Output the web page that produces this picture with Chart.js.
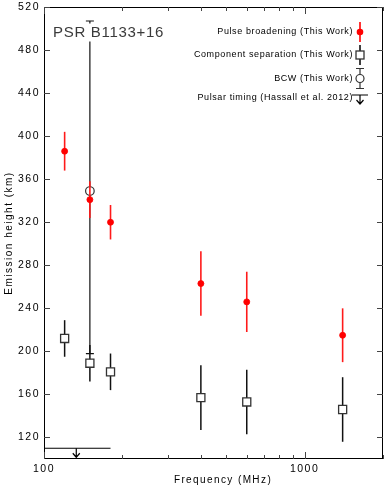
<!DOCTYPE html>
<html>
<head>
<meta charset="utf-8">
<script src="https://cdn.jsdelivr.net/npm/chart.js@4.4.1/dist/chart.umd.min.js"></script>
<style>
  html, body { margin: 0; padding: 0; background: #fff; }
  #wrap { width: 390px; height: 487px; position: relative; }
</style>
</head>
<body>
<div id="wrap"><canvas id="chartEmission"></canvas></div>
<script>
// frequency in MHz, emission height in km
const pbFreq = [120, 150, 180, 400, 600, 1400];
const pbHeight = [386, 341, 320, 263, 246, 215];
const pbErr = [18, 17, 16, 30, 28, 25];

const csFreq = [120, 150, 180, 400, 600, 1400];
const csHeight = [212, 189, 181, 157, 153, 146];
const csErr = [17, 17, 17, 30, 30, 30];

const bcwFreq = [150];
const bcwHeight = [349];
const bcwLow = [198];
const bcwHigh = [507];

const timingFreq = [100, 180];
const timingHeight = [110, 110];
const timingArrowFreq = 133;

const yTicks = [120, 160, 200, 240, 280, 320, 360, 400, 440, 480, 520];
const xTicks = [100, 200, 300, 400, 500, 600, 700, 800, 900, 1000, 2000];
const xLabels = [100, 1000];

const legendLabels = [
  'Pulse broadening (This Work)',
  'Component separation (This Work)',
  'BCW (This Work)',
  'Pulsar timing (Hassall et al. 2012)'
];

const FONT = '"Liberation Sans", Arial, sans-serif';

function pts(xs, ys) {
  return xs.map((x, i) => ({ x: x, y: ys[i] }));
}

// error bars are drawn just before each dataset's points
const errorBars = {
  id: 'errorBars',
  beforeDatasetDraw(chart, args) {
    const ds = chart.data.datasets[args.index];
    const { ctx } = chart;
    const xs = chart.scales.x, ys = chart.scales.y;
    ctx.save();
    if (ds.errLow) {
      ctx.strokeStyle = ds.errColor;
      ctx.lineWidth = ds.errWidth;
      ds.data.forEach((p, i) => {
        const px = xs.getPixelForValue(p.x);
        const lo = ys.getPixelForValue(ds.errLow[i]);
        const hi = ys.getPixelForValue(ds.errHigh[i]);
        ctx.beginPath();
        ctx.moveTo(px, lo);
        ctx.lineTo(px, hi);
        if (ds.errCap) {
          ctx.moveTo(px - ds.errCap, lo); ctx.lineTo(px + ds.errCap, lo);
          ctx.moveTo(px - ds.errCap, hi); ctx.lineTo(px + ds.errCap, hi);
        }
        ctx.stroke();
      });
    }
    if (ds.arrowFreq) {
      const ax = xs.getPixelForValue(ds.arrowFreq);
      const ay = ys.getPixelForValue(ds.data[0].y);
      ctx.strokeStyle = '#000';
      ctx.lineWidth = 1.2;
      ctx.beginPath();
      ctx.moveTo(ax, ay); ctx.lineTo(ax, ay + 9);
      ctx.moveTo(ax - 3.5, ay + 5); ctx.lineTo(ax, ay + 9); ctx.lineTo(ax + 3.5, ay + 5);
      ctx.stroke();
    }
    ctx.restore();
  }
};

const frameAndLegend = {
  id: 'frameAndLegend',
  beforeDraw(chart) {
    chart.ctx.letterSpacing = '1.5px';
  },
  afterDatasetsDraw(chart) {
    const { ctx, chartArea: a } = chart;
    const xs = chart.scales.x, ys = chart.scales.y;
    ctx.save();
    // title box hides the line behind it
    ctx.fillStyle = '#fff';
    ctx.fillRect(52, 23.5, 114, 18);
    ctx.letterSpacing = '0.7px';
    ctx.font = '15px ' + FONT;
    ctx.fillStyle = '#3a3a3a';
    ctx.textBaseline = 'middle';
    ctx.fillText('PSR B1133+16', 53, 33);

    // x axis title, sits a little right of centre
    ctx.letterSpacing = '1.4px';
    ctx.font = '10px ' + FONT;
    ctx.fillStyle = '#000';
    ctx.textAlign = 'center';
    ctx.fillText('Frequency (MHz)', 223, 480);

    // frame
    ctx.strokeStyle = '#000';
    ctx.lineWidth = 1;
    ctx.strokeRect(a.left + 0.5, a.top + 0.5, a.right - a.left - 1, a.bottom - a.top - 1);

    // inward ticks
    ctx.strokeStyle = '#444';
    ctx.beginPath();
    yTicks.forEach(v => {
      const py = Math.round(ys.getPixelForValue(v)) + 0.5;
      ctx.moveTo(a.left, py); ctx.lineTo(a.left + 6, py);
      ctx.moveTo(a.right, py); ctx.lineTo(a.right - 6, py);
    });
    xTicks.forEach(v => {
      const px = Math.round(xs.getPixelForValue(v)) + 0.5;
      const len = xLabels.includes(v) ? 7 : 4;
      ctx.moveTo(px, a.bottom); ctx.lineTo(px, a.bottom - len);
      ctx.moveTo(px, a.top); ctx.lineTo(px, a.top + len);
    });
    ctx.stroke();

    // legend
    const rows = [32, 55, 78.5, 98];
    const sx = 360;
    ctx.letterSpacing = '0.6px';
    ctx.font = '9px ' + FONT;
    ctx.fillStyle = '#000';
    ctx.textAlign = 'right';
    legendLabels.forEach((t, i) => ctx.fillText(t, 353, rows[i]));

    ctx.lineWidth = 1.6;
    ctx.strokeStyle = '#f00';
    ctx.beginPath(); ctx.moveTo(sx, rows[0] - 10); ctx.lineTo(sx, rows[0] + 10); ctx.stroke();
    ctx.fillStyle = '#f00';
    ctx.beginPath(); ctx.arc(sx, rows[0], 3.3, 0, Math.PI * 2); ctx.fill();

    ctx.strokeStyle = '#000';
    ctx.lineWidth = 1.5;
    ctx.beginPath(); ctx.moveTo(sx, rows[1] - 10); ctx.lineTo(sx, rows[1] + 10); ctx.stroke();
    ctx.fillStyle = '#fff';
    ctx.fillRect(sx - 4, rows[1] - 4, 8, 8);
    ctx.strokeStyle = '#333';
    ctx.lineWidth = 1.3;
    ctx.strokeRect(sx - 4, rows[1] - 4, 8, 8);

    ctx.strokeStyle = '#333';
    ctx.lineWidth = 1.2;
    ctx.beginPath();
    ctx.moveTo(sx, rows[2] - 10); ctx.lineTo(sx, rows[2] + 10);
    ctx.moveTo(sx - 4, rows[2] - 10); ctx.lineTo(sx + 4, rows[2] - 10);
    ctx.moveTo(sx - 4, rows[2] + 10); ctx.lineTo(sx + 4, rows[2] + 10);
    ctx.stroke();
    ctx.fillStyle = '#fff';
    ctx.beginPath(); ctx.arc(sx, rows[2], 4, 0, Math.PI * 2); ctx.fill(); ctx.stroke();

    ctx.strokeStyle = '#000';
    ctx.beginPath();
    const ty = rows[3] - 3;
    ctx.moveTo(sx - 8, ty); ctx.lineTo(sx + 8, ty);
    ctx.moveTo(sx, ty); ctx.lineTo(sx, ty + 9);
    ctx.moveTo(sx - 3.5, ty + 5); ctx.lineTo(sx, ty + 9); ctx.lineTo(sx + 3.5, ty + 5);
    ctx.stroke();
    ctx.restore();
  }
};

new Chart(document.getElementById('chartEmission'), {
  type: 'scatter',
  data: {
    datasets: [
      {
        label: legendLabels[0],
        data: pts(pbFreq, pbHeight),
        errLow: pbHeight.map((h, i) => h - pbErr[i]),
        errHigh: pbHeight.map((h, i) => h + pbErr[i]),
        errColor: '#ff1a1a', errWidth: 1.6,
        pointStyle: 'circle', pointRadius: 3, borderWidth: 0.8,
        backgroundColor: '#ff0000', borderColor: '#ff0000'
      },
      {
        label: legendLabels[1],
        data: pts(csFreq, csHeight),
        errLow: csHeight.map((h, i) => h - csErr[i]),
        errHigh: csHeight.map((h, i) => h + csErr[i]),
        errColor: '#111', errWidth: 1.5,
        pointStyle: 'rect', pointRadius: 5.7, borderWidth: 1.3,
        backgroundColor: '#fff', borderColor: '#333'
      },
      {
        label: legendLabels[2],
        data: pts(bcwFreq, bcwHeight),
        errLow: bcwLow, errHigh: bcwHigh,
        errColor: '#111', errWidth: 1.2, errCap: 4,
        pointStyle: 'circle', pointRadius: 4.3, borderWidth: 1.2,
        backgroundColor: '#fff', borderColor: '#333'
      },
      {
        label: legendLabels[3],
        type: 'line',
        data: pts(timingFreq, timingHeight),
        arrowFreq: timingArrowFreq,
        borderColor: '#000', borderWidth: 1.2,
        pointRadius: 0, fill: false
      }
    ]
  },
  options: {
    responsive: true,
    maintainAspectRatio: false,
    animation: false,
    layout: { padding: { top: 4, right: 2, left: 0, bottom: 0 } },
    plugins: {
      legend: { display: false },
      tooltip: { enabled: false }
    },
    scales: {
      x: {
        type: 'logarithmic',
        min: 100,
        max: 2000,
        grid: { display: false, drawTicks: false },
        border: { display: false },
        afterBuildTicks: s => { s.ticks = xTicks.map(v => ({ value: v, major: xLabels.includes(v) })); },
        afterFit: s => { s.height = 28; s.paddingLeft = 0; s.paddingRight = 0; },
        ticks: {
          autoSkip: false, maxRotation: 0, padding: 4,
          color: '#000', font: { family: FONT, size: 10.5 },
          callback: v => xLabels.includes(v) ? String(v) : ''
        },
        title: { display: false }
      },
      y: {
        min: 100,
        max: 520,
        grid: { display: false, drawTicks: false },
        border: { display: false },
        afterBuildTicks: s => { s.ticks = yTicks.map(v => ({ value: v })); },
        afterFit: s => { s.width = 44; s.paddingTop = 0; s.paddingBottom = 0; },
        ticks: {
          padding: 4, color: '#000', font: { family: FONT, size: 10.5 }
        },
        title: {
          display: true, text: 'Emission height (km)', color: '#000',
          font: { family: FONT, size: 10 }, padding: { top: 3, bottom: 0 }
        }
      }
    }
  },
  plugins: [errorBars, frameAndLegend]
});
</script>
</body>
</html>
